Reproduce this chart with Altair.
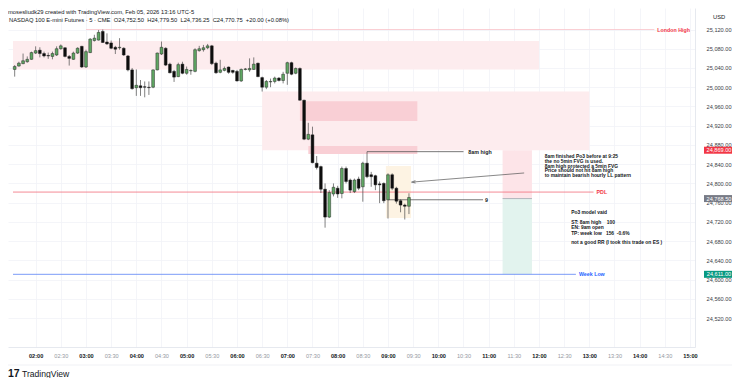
import altair as alt
import pandas as pd

# ---------------- candle data (5-min bars, 01:35 .. 09:25) ----------------
opens = [25037, 25044, 25049, 25053, 25058, 25071, 25077, 25070, 25066, 25064,
         25067, 25080, 25082, 25064, 25058, 25071, 25085, 25042, 25072, 25097,
         25098, 25116, 25094, 25092, 25083, 25082, 25081, 25065, 25036, 24999,
         25003, 25001, 25000, 25000, 25036, 25069, 25081, 25048, 25033, 25022,
         25048, 25029, 25034, 25033, 25076, 25078, 25082, 25086, 25050, 25031,
         25035, 25042, 25035, 25033, 25013, 25037, 25036, 25037, 25050, 25020,
         25000, 25011, 25012, 25019, 25014, 25029, 25051, 25029, 25039, 24973,
         24892, 24901, 24842, 24835, 24788, 24730, 24778, 24790, 24779, 24831,
         24807, 24783, 24809, 24793, 24842, 24818, 24816, 24799, 24800, 24766,
         24818, 24790, 24764, 24755, 24752.5]
highs = [25046, 25053, 25070, 25064, 25074, 25085, 25083, 25074, 25072, 25074,
         25085, 25089, 25083, 25067, 25074, 25083, 25086, 25078, 25102, 25109,
         25119, 25120, 25112, 25097, 25086, 25102, 25083, 25067, 25040, 25037,
         25015, 25012, 25012, 25037, 25072, 25095, 25083, 25051, 25036, 25051,
         25053, 25043, 25037, 25081, 25086, 25088, 25090, 25088, 25053, 25057,
         25043, 25043, 25036, 25036, 25039, 25040, 25060, 25062, 25051, 25022,
         25015, 25018, 25022, 25021, 25032, 25053, 25053, 25041, 25041, 24974,
         24926, 24918, 24857, 24837, 24800, 24786, 24800, 24795, 24835, 24835,
         24810, 24810, 24814, 24845, 24866, 24824, 24818, 24804, 24802, 24821,
         24821, 24793, 24767, 24758, 24779.5]
lows = [25022, 25043, 25048, 25051, 25057, 25069, 25062, 25062, 25059, 25058,
        25065, 25078, 25062, 25045, 25057, 25069, 25040, 25040, 25071, 25095,
        25097, 25092, 25088, 25079, 25069, 25078, 25065, 25033, 24995, 24982,
        24982, 24979, 24984, 24998, 25035, 25067, 25044, 25029, 25011, 25021,
        25027, 25026, 25026, 25031, 25074, 25074, 25079, 25046, 25028, 25029,
        25033, 25028, 25028, 25012, 25011, 25035, 25032, 25036, 25021, 24991,
        24996, 25000, 25008, 25012, 25008, 25005, 25025, 25027, 24972, 24890,
        24890, 24842, 24829, 24780, 24708, 24728, 24773, 24770, 24769, 24800,
        24780, 24780, 24786, 24762, 24811, 24793, 24786, 24759, 24759, 24727,
        24786, 24758, 24740, 24725, 24736.25]
closes = [25043, 25050, 25055, 25058, 25072, 25076, 25070, 25065, 25065, 25070,
          25080, 25086, 25064, 25060, 25071, 25081, 25042, 25074, 25100, 25102,
          25114, 25093, 25090, 25081, 25079, 25083, 25067, 25036, 24997, 25004,
          24999, 25000, 24999, 25036, 25071, 25083, 25046, 25030, 25021, 25047,
          25029, 25037, 25035, 25078, 25080, 25082, 25086, 25049, 25030, 25036,
          25039, 25031, 25031, 25013, 25037, 25038, 25039, 25048, 25022, 25000,
          25012, 25012, 25019, 25014, 25027, 25051, 25027, 25039, 24973, 24892,
          24902, 24843, 24833, 24788, 24730, 24781, 24792, 24778, 24831, 24804,
          24786, 24807, 24790, 24842, 24814, 24814, 24797, 24797, 24764, 24818,
          24790, 24763, 24755, 24752.5, 24770.75]
first_bar_minute = 95      # 01:35
bar_minutes = 5
times = [first_bar_minute + bar_minutes * i for i in range(len(opens))]

# ---------------- drawings ----------------
box_kind = ["zone", "zone", "fvg", "fvg", "window", "stop", "target"]
box_t1 = [93, 390, 435, 445, 537.5, 676.6, 676.6]
box_t2 = [720, 780, 575, 575, 567.5, 711.6, 711.6]
box_p1 = [25037, 24869, 24930, 24861, 24728, 24768.5, 24611]
box_p2 = [25096, 24991, 24971, 24878, 24836, 24869, 24768.5]

lvl_kind = ["london", "pdl", "weeklow", "note", "note", "entry"]
lvl_price = [25120, 24782, 24611, 24866, 24766, 24768.5]
lvl_t1 = [180, 93, 93, 515, 540, 676.6]
lvl_t2 = [857.5, 785, 764, 630, 653.3, 711.6]

lab_kind = ["london", "pdl", "weeklow", "note", "note"]
lab_text = ["London High", "PDL", "Week Low", "8am high", "9"]
lab_t = [861, 788.6, 767.6, 635.8, 655.6]
lab_price = [25120, 24782, 24611, 24866, 24766]

arrow_t = [702.3, 570.4]
arrow_p = [24821.7, 24803.0]

note1_lines = ["8am finished Po3 before at 9:25", "the no 5min FVG is used.",
               "8am high protected a 5min FVG", "Price should not hit 8am high",
               "to maintain bearish hourly LL pattern"]
note1_price = [24855.0, 24845.0, 24835.0, 24825.0, 24815.0]
note1_t = 726.8
note2_lines = ["Po3 model vaid", "ST: 8am high\u00a0\u00a0\u00a0\u00a0100", "EN: 9am open",
               "TP: week low\u00a0\u00a0\u00a0156\u00a0\u00a0-0.6%",
               "not a good RR (I took this trade on ES )"]
note2_price = [24738.5, 24718.5, 24707.0, 24695.5, 24675.5]
note2_t = 758.3

tag_text = ["24,869.00", "24,768.50", "24,611.00"]
tag_price = [24869, 24768.5, 24611]
tag_kind = ["stop", "last", "target"]

price_ticks = list(range(24520, 25121, 40))
time_ticks = list(range(120, 901, 30))

header1 = "mosesliudk29 created with TradingView.com, Feb 05, 2026 13:16 UTC-5"
header2 = ("NASDAQ 100 E-mini Futures \u00b7 5 \u00b7 CME\u00a0\u00a0O24,752.50\u00a0\u00a0H24,779.50"
           "\u00a0\u00a0L24,736.25\u00a0\u00a0C24,770.75\u00a0\u00a0+20.00 (+0.08%)")

# ---------------- tables ----------------
candles = pd.DataFrame({"t": times, "o": opens, "h": highs, "l": lows, "c": closes})
candles["dir"] = ["up" if c >= o else "down" for o, c in zip(opens, closes)]
boxes = pd.DataFrame({"kind": box_kind, "t1": box_t1, "t2": box_t2, "p1": box_p1, "p2": box_p2})
levels = pd.DataFrame({"kind": lvl_kind, "p": lvl_price, "t1": lvl_t1, "t2": lvl_t2})
labels = pd.DataFrame({"kind": lab_kind, "text": lab_text, "t": lab_t, "p": lab_price})
arrow = pd.DataFrame({"t1": [arrow_t[0]], "p1": [arrow_p[0]], "t2": [arrow_t[1]], "p2": [arrow_p[1]]})
notes = pd.DataFrame({"text": note1_lines + note2_lines,
                      "t": [note1_t] * len(note1_lines) + [note2_t] * len(note2_lines),
                      "p": note1_price + note2_price})
tags = pd.DataFrame({"text": tag_text, "p": tag_price, "kind": tag_kind})

FONT = "Liberation Sans"
xscale = alt.Scale(domain=[93, 900], nice=False, zero=False)
yscale = alt.Scale(domain=[24459.9, 25164.7], nice=False, zero=False)
hour_test = "datum.value % 60 == 0"
xaxis = alt.Axis(values=time_ticks, title=None, ticks=False, labelPadding=6,
                 labelExpr="format(floor(datum.value/60),'02d') + ':' + format(datum.value % 60,'02d')",
                 labelFontSize=5.6, labelFont=FONT, labelOverlap=False, labelFlush=False,
                 labelColor=alt.condition(hour_test, alt.value("#131722"), alt.value("#9598a1")),
                 labelFontWeight=alt.condition(hour_test, alt.value("bold"), alt.value("normal")),
                 grid=True, gridColor="#f1f3f7", gridWidth=0.8,
                 domain=True, domainColor="#e0e3eb", domainWidth=0.8)
yaxis = alt.Axis(orient="right", values=price_ticks, format=",.2f", title=None, ticks=False,
                 labelAlign="right", labelPadding=36, labelFontSize=5.6, labelFont=FONT,
                 labelColor="#3b3e47", labelOverlap=False, labelFlush=False,
                 grid=True, gridColor="#f1f3f7", gridWidth=0.8,
                 domain=True, domainColor="#e0e3eb", domainWidth=0.8)


def X(f):
    return alt.X(f, type="quantitative", scale=xscale, axis=xaxis)


def Y(f):
    return alt.Y(f, type="quantitative", scale=yscale, axis=yaxis)


box_layer = alt.Chart(boxes).mark_rect(opacity=1).encode(
    x=X("t1"), x2="t2", y=Y("p1"), y2="p2",
    color=alt.Color("kind:N", legend=None, scale=alt.Scale(
        domain=["zone", "fvg", "window", "stop", "target"],
        range=["#fdecee", "#f9cfd5", "#fdf3e3", "#fde4e8", "#e2f3ee"])))

level_layer = alt.Chart(levels).mark_rule(strokeWidth=0.8).encode(
    x=X("t1"), x2="t2", y=Y("p"),
    color=alt.Color("kind:N", legend=None, scale=alt.Scale(
        domain=["london", "pdl", "weeklow", "note", "entry"],
        range=["#f9c3c9", "#f06b7a", "#5b83f5", "#555555", "#a3a6af"])))

wick_layer = alt.Chart(candles).mark_rule(color="#4a4a4a", strokeWidth=0.7).encode(
    x=X("t"), y=Y("l"), y2="h")

body_layer = alt.Chart(candles).mark_bar(size=2.8, stroke="#1c1c1c", strokeWidth=0.45).encode(
    x=X("t"), y=Y("o"), y2="c",
    color=alt.Color("dir:N", legend=None, scale=alt.Scale(
        domain=["up", "down"], range=["#5fa663", "#0d0d0d"])))

label_layer = alt.Chart(labels).mark_text(align="left", baseline="middle", fontSize=5.3,
                                          fontWeight="bold", font=FONT).encode(
    x=X("t"), y=Y("p"), text="text:N",
    color=alt.Color("kind:N", legend=None, scale=alt.Scale(
        domain=["london", "pdl", "weeklow", "note"],
        range=["#f23645", "#f23645", "#2962ff", "#131722"])))

arrow_line = alt.Chart(arrow).mark_rule(color="#555555", strokeWidth=0.7).encode(
    x=X("t1"), x2="t2", y=Y("p1"), y2="p2")
arrow_head = alt.Chart(arrow).mark_point(shape="M1,-0.6L-1,0L1,0.6", filled=False, size=16,
                                         angle=355.4, color="#555555", strokeWidth=0.7,
                                         opacity=1).encode(x=X("t2"), y=Y("p2"))

note_layer = alt.Chart(notes).mark_text(align="left", baseline="middle", fontSize=4.9,
                                        fontWeight="bold", font=FONT, color="#131722").encode(
    x=X("t"), y=Y("p"), text="text:N")

tag_box = alt.Chart(tags).mark_point(shape="M-1,-0.2333H1V0.2333H-1Z", size=900, filled=True,
                                     opacity=1, strokeWidth=0).encode(
    x=alt.value(711), y=Y("p"),
    color=alt.Color("kind:N", legend=None, scale=alt.Scale(
        domain=["stop", "last", "target"], range=["#f23645", "#787b86", "#089981"])))
tag_txt = alt.Chart(tags).mark_text(align="center", baseline="middle", fontSize=5.6,
                                    font=FONT, color="white").encode(
    x=alt.value(711), y=Y("p"), text="text:N")

header_df = pd.DataFrame({"text": [header1, header2, "USD"]})
head1 = alt.Chart(header_df.iloc[[0]]).mark_text(align="left", baseline="middle", fontSize=5.8,
                                                 font=FONT, color="#131722").encode(
    x=alt.value(0), y=alt.value(3.5), text="text:N")
head2 = alt.Chart(header_df.iloc[[1]]).mark_text(align="left", baseline="middle", fontSize=5.8,
                                                 font=FONT, color="#131722").encode(
    x=alt.value(1), y=alt.value(12), text="text:N")
usd = alt.Chart(header_df.iloc[[2]]).mark_text(align="left", baseline="middle", fontSize=5.8,
                                               font=FONT, color="#131722").encode(
    x=alt.value(705), y=alt.value(8.5), text="text:N")

logo_df = pd.DataFrame({"text": ["17", "TradingView"]})
logo1 = alt.Chart(logo_df.iloc[[0]]).mark_text(align="left", baseline="middle", fontSize=10.5,
                                               fontWeight="bold", font=FONT, color="#131722").encode(
    x=alt.value(0), y=alt.value(366), text="text:N")
logo2 = alt.Chart(logo_df.iloc[[1]]).mark_text(align="left", baseline="middle", fontSize=8.6,
                                               font=FONT, color="#131722").encode(
    x=alt.value(14), y=alt.value(366), text="text:N")
sep = alt.Chart(logo_df.iloc[[0]]).mark_rule(color="#eceef3", strokeWidth=0.8).encode(
    x=alt.value(0), x2=alt.value(724), y=alt.value(357))

chart = alt.layer(
    box_layer, level_layer, wick_layer, body_layer, label_layer, arrow_line, arrow_head,
    note_layer, tag_box, tag_txt, head1, head2, usd, sep, logo1, logo2
).resolve_scale(
    color="independent"
).properties(
    width=687, height=339,
    autosize=alt.AutoSizeParams(type="none"),
    padding={"left": 0, "top": 0, "right": 37, "bottom": 31},
    background="white",
).configure_view(stroke=None)

chart.save("out.html", embed_options={"renderer": "svg", "actions": False})
